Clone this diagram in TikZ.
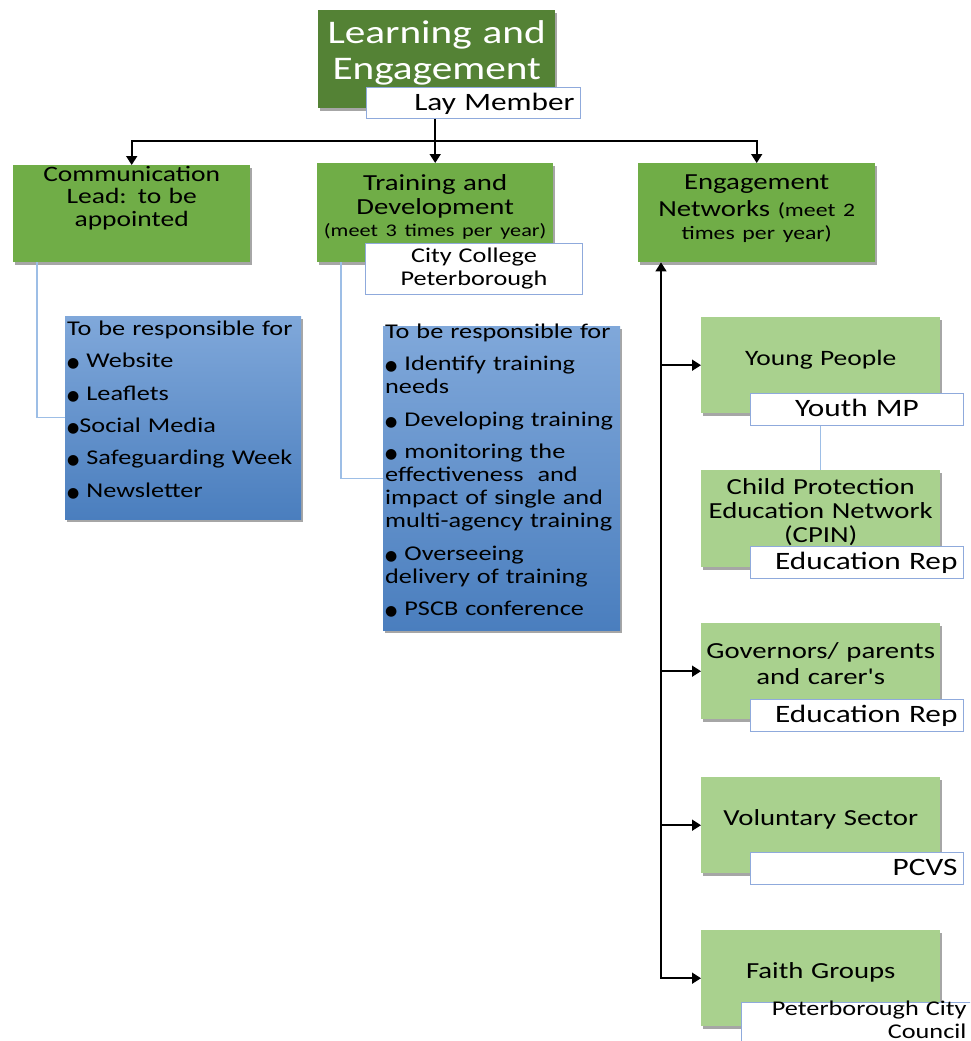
\documentclass[tikz,border=0pt]{standalone}
\usepackage{fontspec}
\setmainfont{Carlito}[FakeStretch=1.25, Ligatures=TeXOff]
\newfontfamily\symbolfont{DejaVu Sans}
\usetikzlibrary{positioning, arrows.meta, shadows, calc}
\definecolor{DarkGreen}{RGB}{84,130,53}
\definecolor{MidGreen}{RGB}{112,173,71}
\definecolor{LightGreen}{RGB}{169,209,142}
\definecolor{BlueTop}{RGB}{128,168,218}
\definecolor{BlueBottom}{RGB}{74,126,190}
\definecolor{TagBorder}{RGB}{143,170,220}
\definecolor{LinkBlue}{RGB}{157,190,230}
\newcommand{\bul}{{\symbolfont\fontsize{14}{14}\selectfont ●}}

\tikzset{
  boxshadow/.style={drop shadow={shadow xshift=2pt, shadow yshift=-3pt, opacity=0.35, fill=black}},
  unit/.style={anchor=north west, inner xsep=3pt, inner ysep=0pt, align=center, boxshadow},
  headbox/.style={unit, fill=DarkGreen, text=white},
  groupbox/.style={unit, fill=MidGreen},
  networkbox/.style={unit, fill=LightGreen},
  dutybox/.style={unit, inner xsep=2pt, align=left, top color=BlueTop, bottom color=BlueBottom},
  tagbox/.style={anchor=north west, inner xsep=6pt, inner ysep=0pt, draw=TagBorder, line width=0.9pt, fill=white},
  arrowline/.style={line width=1.6pt, ->},
  linkline/.style={draw=LinkBlue, line width=1.3pt},
}

\begin{document}
\begin{tikzpicture}[x=1pt, y=-1pt, >={Triangle[length=9pt, width=11pt]}]
  \useasboundingbox (0,0) rectangle (970,1041);
  \clip (0,0) rectangle (970,1041);

  % Head of the group
  \node[headbox, text width=231pt, text height=33pt, text depth=65pt, font=\fontsize{33}{36}\selectfont] (head) at (318,10) {Learning and\\ Engagement};
  \node[tagbox, align=right, text width=202pt, text height=23pt, text depth=8pt, font=\fontsize{25}{25}\selectfont] (lay) at (366,87) {Lay Member};

  % Sub groups
  \node[groupbox, text width=231pt, text height=16pt, text depth=81pt, font=\fontsize{22}{22.5}\selectfont] (comm) at (13,165) {Communication\\ Lead: to be\\ appointed};
  \node[groupbox, text width=230pt, text height=27pt, text depth=72pt, font=\fontsize{23}{24}\selectfont] (train) at (317,163) {Training and\\ Development\\ {\fontsize{17.8}{22}\selectfont\mbox{(meet 3 times per year)}\par}};
  \node[tagbox, align=center, text width=205pt, text height=19pt, text depth=32pt, font=\fontsize{21}{23}\selectfont] (college) at (365,243) {City College\\ Peterborough};
  \node[groupbox, text width=231pt, text height=26pt, text depth=73pt, font=\fontsize{23}{27}\selectfont] (eng) at (638,163) {Engagement\\ Networks {\fontsize{19}{20}\selectfont (meet 2}\\ {\fontsize{19}{23}\selectfont times per year)\par}};

  % Duties
  \node[dutybox, text width=232pt, text height=19pt, text depth=184pt, font=\fontsize{21}{32.4}\selectfont] (commduty) at (65,316) {To be responsible for\\ \bul{} Website\\ \bul{} Leaflets\\ \bul Social Media\\ \bul{} Safeguarding Week\\ \bul{} Newsletter};
  \node[dutybox, text width=233pt, text height=12pt, text depth=292pt, font=\fontsize{21}{23}\selectfont] (trainduty) at (383,326) {To be responsible for\\[9.5pt]
    \bul{} Identify training\\ needs\\[9.5pt]
    \bul{} Developing training\\[9.5pt]
    \bul{} monitoring the\\ effectiveness\ \ and\\ impact of single and\\ multi-agency training\\[9.5pt]
    \bul{} Overseeing\\ delivery of training\\[9.5pt]
    \bul{} PSCB conference};

  % Engagement networks
  \node[networkbox, text width=233pt, text height=48pt, text depth=48pt, font=\fontsize{22}{24}\selectfont] (young) at (701,317) {Young People};
  \node[networkbox, text width=233pt, text height=24pt, text depth=73pt, font=\fontsize{23}{24}\selectfont] (cpin) at (701,470) {Child Protection\\ Education Network\\ (CPIN)};
  \node[networkbox, text width=233pt, text height=35pt, text depth=61pt, font=\fontsize{23}{26}\selectfont] (gov) at (701,623) {Governors/ parents\\ and carer's};
  \node[networkbox, text width=233pt, text height=48pt, text depth=48pt, font=\fontsize{23}{24}\selectfont] (vol) at (701,777) {Voluntary Sector};
  \node[networkbox, text width=233pt, text height=48pt, text depth=48pt, font=\fontsize{23}{24}\selectfont] (faith) at (701,930) {Faith Groups};

  \node[tagbox, align=center, text width=201pt, text height=23pt, text depth=9pt, font=\fontsize{25}{25}\selectfont] (youthmp) at (750,393) {Youth MP};
  \node[tagbox, align=right, text width=201pt, text height=23pt, text depth=9pt, font=\fontsize{25}{25}\selectfont] (edurep) at (750,546) {Education Rep};
  \node[tagbox, align=right, text width=201pt, text height=23pt, text depth=9pt, font=\fontsize{25}{25}\selectfont] (govrep) at (750,699) {Education Rep};
  \node[tagbox, align=right, text width=201pt, text height=23pt, text depth=9pt, font=\fontsize{25}{25}\selectfont] (pcvs) at (750,852) {PCVS};
  \node[tagbox, align=right, text width=219pt, text height=13pt, text depth=40pt, font=\fontsize{21}{23}\selectfont] (council) at (741,1002) {Peterborough City\\ Council};

  % Connectors
  \coordinate (hub) at ($(lay.south -| train.north)+(0,22)$);
  \draw[line width=1.6pt] (lay.south -| hub) -- (hub);
  \draw[arrowline] (hub) -- (train.north);
  \draw[arrowline] (hub) -| (comm.north);
  \draw[arrowline] (hub) -| (eng.north);

  \coordinate (spine) at ($(faith.west)+(-40,0)$);
  \draw[arrowline, <->] (spine |- eng.south) |- (faith.west);
  \foreach \net in {young, gov, vol}
    \draw[arrowline] (spine |- \net.west) -- (\net.west);

  \draw[linkline] ([xshift=24pt]comm.south west) |- (commduty.west);
  \draw[linkline] ([xshift=24pt]train.south west) |- (trainduty.west);
  \draw[linkline] (youthmp.south -| cpin.north) -- (cpin.north);
\end{tikzpicture}
\end{document}
